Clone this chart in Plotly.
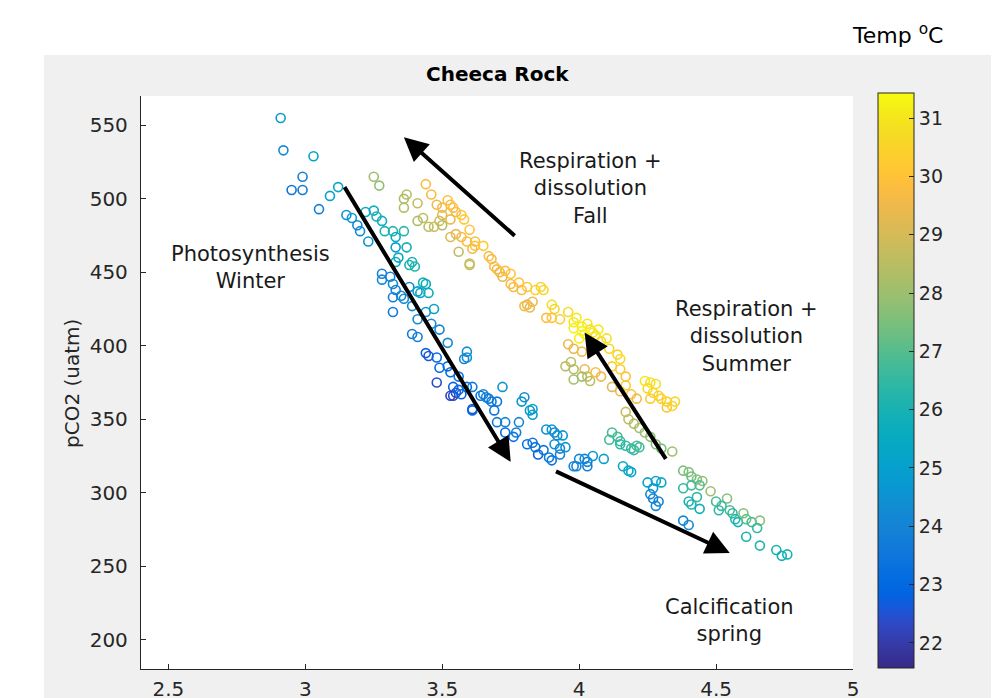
import plotly.graph_objects as go

# ---------------- data ----------------
winter_x = [2.91, 2.92, 3.03, 2.99, 2.95, 2.99, 3.05, 3.09, 3.12, 3.15, 3.17, 3.20, 3.23, 3.25, 3.26, 3.28,
            3.29, 3.32, 3.33, 3.36, 3.37, 3.33, 3.34, 3.39, 3.22, 3.19, 3.38, 3.40, 3.43, 3.44, 3.42, 3.45,
            3.33, 3.28, 3.28, 3.31, 3.32, 3.33, 3.35, 3.32, 3.36, 3.38, 3.41, 3.32, 3.39, 3.41, 3.44, 3.47,
            3.46, 3.39, 3.41, 3.49, 3.52, 3.44, 3.45, 3.48, 3.49, 3.52, 3.53, 3.56, 3.48, 3.54, 3.55, 3.53,
            3.57, 3.59, 3.61, 3.59, 3.59, 3.58, 3.72, 3.61, 3.64, 3.65, 3.67, 3.70, 3.79, 3.83, 3.54, 3.56,
            3.66, 3.68, 3.61, 3.69, 3.70, 3.73, 3.73, 3.78, 3.80, 3.82, 3.83, 3.77, 3.76, 3.81, 3.83, 3.84,
            3.85, 3.87, 3.88, 3.90, 3.91, 3.92, 3.94, 3.91, 3.93, 3.95, 3.93, 3.89, 3.90, 3.98, 4.00, 4.02,
            4.03, 4.05, 4.03, 4.09, 3.99, 4.16, 4.18, 4.19, 4.25, 4.28, 4.30, 4.27, 4.26, 4.27, 4.29, 4.28,
            4.38, 4.40]
winter_pco2 = [555, 533, 529, 515, 506, 506, 493, 502, 508, 489, 487, 478, 471, 492, 488, 485,
               478, 478, 474, 478, 467, 467, 460, 457, 491, 482, 455, 454, 443, 442, 436, 436,
               457, 449, 445, 447, 442, 438, 434, 433, 432, 440, 437, 423, 427, 418, 423, 425,
               415, 408, 406, 411, 402, 395, 393, 392, 385, 386, 382, 379, 375, 372, 368, 366,
               367, 372, 372, 396, 392, 391, 372, 357, 366, 367, 364, 362, 362, 357, 366, 370,
               365, 362, 356, 356, 348, 348, 341, 348, 365, 356, 353, 341, 338, 333, 334, 331,
               326, 329, 343, 343, 341, 339, 339, 333, 330, 331, 326, 324, 322, 318, 323, 323,
               321, 325, 318, 323, 318, 318, 315, 314, 307, 308, 307, 303, 299, 296, 294, 291,
               281, 278]
winter_temp = [24.8, 24.2, 25.0, 24.0, 23.4, 23.6, 23.8, 25.0, 25.3, 24.5, 24.8, 24.3, 24.6, 25.8, 26.0, 25.7,
               26.0, 26.2, 25.5, 26.3, 25.8, 24.8, 25.5, 26.0, 25.3, 24.0, 26.0, 26.2, 26.0, 25.5, 25.3, 25.7,
               25.5, 23.9, 24.2, 24.0, 24.3, 24.0, 24.1, 23.8, 24.2, 24.4, 24.9, 23.6, 24.3, 24.2, 24.5, 25.0,
               24.3, 23.7, 23.9, 24.0, 24.2, 22.8, 22.5, 23.0, 23.2, 23.3, 23.0, 23.4, 22.4, 22.7, 22.5, 22.2,
               22.8, 23.2, 23.6, 24.3, 24.5, 24.0, 24.6, 22.5, 23.4, 23.8, 23.6, 23.5, 24.7, 25.2, 22.3, 23.0,
               24.0, 23.7, 23.0, 23.5, 23.7, 24.0, 23.1, 24.1, 24.4, 24.7, 24.8, 23.8, 23.5, 23.3, 23.5, 23.2,
               22.8, 23.4, 24.5, 24.6, 24.3, 24.4, 24.7, 24.4, 24.2, 24.5, 24.0, 23.6, 23.5, 23.9, 24.2, 24.1,
               23.9, 24.6, 23.8, 25.0, 24.0, 25.3, 25.4, 25.3, 25.0, 25.2, 25.3, 24.6, 24.2, 24.0, 23.9, 24.1,
               24.0, 24.2]

fall_x = [3.25, 3.27, 3.44, 3.37, 3.36, 3.41, 3.36, 3.46, 3.48, 3.50, 3.53, 3.55, 3.57, 3.50, 3.53, 3.41,
          3.43, 3.45, 3.47, 3.49, 3.53, 3.55, 3.57, 3.56, 3.59, 3.52, 3.54, 3.58, 3.60, 3.50, 3.62, 3.62,
          3.65, 3.61, 3.60, 3.68, 3.69, 3.71, 3.72, 3.75, 3.75, 3.78, 3.81, 3.84, 3.87, 3.79, 3.76, 3.81,
          3.82, 3.83, 3.80, 3.67, 3.70, 3.60, 3.73, 3.86]
fall_pco2 = [515, 509, 510, 503, 500, 497, 494, 503, 496, 494, 496, 491, 489, 489, 486, 485,
             487, 481, 481, 485, 474, 476, 474, 464, 471, 499, 494, 486, 479, 482, 471, 468,
             468, 466, 456, 459, 454, 450, 447, 449, 442, 443, 440, 438, 438, 438, 440, 428,
             426, 430, 427, 461, 452, 455, 451, 440]
fall_temp = [28.0, 27.8, 29.8, 28.5, 28.3, 28.7, 28.4, 29.7, 29.5, 29.6, 29.8, 29.7, 30.0, 29.3, 29.5, 28.3,
             28.6, 28.5, 28.8, 29.0, 29.1, 29.4, 29.6, 28.7, 29.8, 29.9, 29.9, 30.2, 30.0, 28.3, 29.9, 30.0,
             30.2, 29.6, 28.7, 29.6, 29.7, 29.5, 29.3, 30.0, 29.8, 30.1, 30.2, 30.5, 30.6, 29.8, 29.6, 29.3,
             29.4, 29.5, 29.6, 29.8, 29.7, 28.8, 29.9, 30.4]

summer_x = [3.90, 3.91, 3.88, 3.90, 3.93, 3.96, 3.98, 3.99, 4.01, 4.03, 4.04, 4.05, 4.06, 4.08, 3.98, 4.01,
            3.96, 3.98, 4.01, 3.95, 3.97, 3.98, 4.02, 4.03, 4.04, 3.98, 4.01, 4.06, 4.08, 4.11, 4.14, 4.15,
            4.12, 4.15, 4.17, 4.12, 4.15, 4.17, 4.19, 4.21, 4.24, 4.26, 4.28, 4.25, 4.27, 4.29, 4.30, 4.32,
            4.34, 4.35, 4.32, 4.26, 4.17, 4.18, 4.20, 4.22, 4.24, 4.26, 4.28, 4.30, 4.34, 4.12, 4.14, 4.15,
            4.17, 4.20, 4.21, 4.11, 4.07, 4.10, 4.02, 4.00]
summer_pco2 = [428, 425, 419, 419, 418, 423, 416, 419, 413, 415, 411, 409, 407, 403, 412, 410,
               401, 398, 396, 386, 389, 384, 384, 379, 376, 377, 379, 382, 379, 398, 394, 391,
               386, 384, 379, 372, 369, 373, 367, 364, 376, 375, 374, 371, 368, 366, 364, 362,
               359, 362, 358, 364, 355, 350, 347, 344, 341, 338, 333, 330, 328, 341, 338, 335,
               332, 329, 332, 336, 411, 405, 408, 405]
summer_temp = [30.8, 30.5, 29.8, 30.0, 30.3, 30.7, 31.0, 31.1, 31.2, 31.0, 30.9, 31.0, 30.8, 30.6, 31.2, 31.3,
               29.5, 29.3, 29.6, 28.5, 28.6, 28.3, 29.4, 28.8, 28.5, 28.2, 28.0, 29.8, 29.5, 30.6, 30.5, 30.7,
               30.3, 30.2, 30.0, 29.2, 29.5, 30.2, 29.9, 29.6, 31.0, 30.9, 30.8, 30.7, 30.6, 30.4, 30.5, 30.3,
               30.5, 30.6, 30.1, 30.2, 28.8, 28.6, 28.4, 28.2, 28.0, 27.8, 27.7, 27.5, 28.0, 26.8, 26.9, 26.6,
               26.5, 26.6, 26.9, 26.7, 31.1, 30.9, 31.3, 31.2]

spring_x = [4.38, 4.40, 4.41, 4.43, 4.45, 4.44, 4.41, 4.38, 4.48, 4.43, 4.40, 4.41, 4.44, 4.54, 4.50, 4.51,
            4.52, 4.55, 4.56, 4.57, 4.58, 4.60, 4.61, 4.63, 4.66, 4.65, 4.61, 4.66, 4.72, 4.74, 4.76, 4.15,
            4.19, 4.22]
spring_pco2 = [315, 314, 311, 309, 308, 305, 305, 303, 301, 297, 294, 292, 289, 296, 294, 288,
               291, 288, 286, 282, 280, 286, 282, 280, 281, 276, 270, 264, 261, 257, 258, 333,
               330, 331]
spring_temp = [27.5, 27.7, 27.3, 27.6, 27.8, 27.0, 26.8, 26.5, 28.0, 26.5, 26.0, 26.2, 25.8, 27.7, 26.8, 26.4,
               26.6, 26.8, 26.5, 26.2, 26.0, 27.6, 27.2, 26.8, 27.8, 26.5, 26.0, 26.2, 26.0, 25.9, 26.0, 26.4,
               26.5, 26.7]

x_ticks = [2.5, 3, 3.5, 4, 4.5, 5]
x_ticktext = ["2.5", "3", "3.5", "4", "4.5", "5"]
y_ticks = [200, 250, 300, 350, 400, 450, 500, 550]
temp_ticks = [22, 23, 24, 25, 26, 27, 28, 29, 30, 31]

# text labels (data units): (text, x, y)
labels = [
    ("Photosynthesis<br>Winter", 2.80, 453),
    ("Respiration +<br>dissolution<br>Fall", 4.04, 507),
    ("Respiration +<br>dissolution<br>Summer", 4.61, 406),
    ("Calcification<br>spring", 4.55, 213),
]
# arrows (data units): (tail x, tail y, head x, head y)
arrows = [
    (3.14, 509, 3.75, 321),
    (3.77, 474, 3.36, 542),
    (4.32, 322, 4.02, 409),
    (3.91, 315, 4.55, 259),
]

# ---------------- style ----------------
parula = [
    [0.2081, 0.1663, 0.5292], [0.2116, 0.1898, 0.5777], [0.2123, 0.2138, 0.6270], [0.2081, 0.2386, 0.6771],
    [0.1959, 0.2645, 0.7279], [0.1707, 0.2919, 0.7792], [0.1253, 0.3242, 0.8303], [0.0591, 0.3598, 0.8683],
    [0.0117, 0.3875, 0.8820], [0.0060, 0.4086, 0.8828], [0.0165, 0.4266, 0.8786], [0.0329, 0.4430, 0.8720],
    [0.0498, 0.4586, 0.8641], [0.0629, 0.4737, 0.8554], [0.0723, 0.4887, 0.8467], [0.0779, 0.5040, 0.8384],
    [0.0793, 0.5200, 0.8312], [0.0749, 0.5375, 0.8263], [0.0641, 0.5570, 0.8240], [0.0488, 0.5772, 0.8228],
    [0.0343, 0.5966, 0.8199], [0.0265, 0.6137, 0.8135], [0.0239, 0.6287, 0.8038], [0.0231, 0.6418, 0.7913],
    [0.0228, 0.6535, 0.7768], [0.0267, 0.6642, 0.7607], [0.0384, 0.6743, 0.7436], [0.0590, 0.6838, 0.7254],
    [0.0843, 0.6928, 0.7062], [0.1133, 0.7015, 0.6859], [0.1453, 0.7098, 0.6646], [0.1801, 0.7177, 0.6424],
    [0.2178, 0.7250, 0.6193], [0.2586, 0.7317, 0.5954], [0.3022, 0.7376, 0.5712], [0.3482, 0.7424, 0.5473],
    [0.3953, 0.7459, 0.5244], [0.4420, 0.7481, 0.5033], [0.4871, 0.7491, 0.4840], [0.5300, 0.7491, 0.4661],
    [0.5709, 0.7485, 0.4494], [0.6099, 0.7473, 0.4337], [0.6473, 0.7456, 0.4188], [0.6834, 0.7435, 0.4044],
    [0.7184, 0.7411, 0.3905], [0.7525, 0.7384, 0.3768], [0.7858, 0.7356, 0.3633], [0.8185, 0.7327, 0.3498],
    [0.8507, 0.7299, 0.3360], [0.8824, 0.7274, 0.3217], [0.9139, 0.7258, 0.3063], [0.9450, 0.7261, 0.2886],
    [0.9739, 0.7314, 0.2666], [0.9938, 0.7455, 0.2403], [0.9990, 0.7653, 0.2164], [0.9955, 0.7861, 0.1967],
    [0.9880, 0.8066, 0.1794], [0.9789, 0.8271, 0.1633], [0.9697, 0.8481, 0.1475], [0.9626, 0.8705, 0.1309],
    [0.9589, 0.8949, 0.1132], [0.9598, 0.9218, 0.0948], [0.9661, 0.9514, 0.0755], [0.9763, 0.9831, 0.0538],
]
n = len(parula)
colorscale = [[i / (n - 1), "rgb(%d,%d,%d)" % tuple(round(c * 255) for c in rgb)] for i, rgb in enumerate(parula)]

FONT = "DejaVu Sans"
AXC = "#262626"
TXT = "#1a1a1a"

# the page body has an 8 px margin, so the figure is laid out 8 px smaller and
# screen positions (window pixels) are converted with that offset
OFF = 8
W, H = 1004 - OFF, 698 - OFF
PLOT_L, PLOT_R, PLOT_T, PLOT_B = 141, 853, 96, 669   # window pixels of the axes box
L, T = PLOT_L - OFF, PLOT_T - OFF
R, B = W - (PLOT_R - OFF), H - (PLOT_B - OFF)
pw, ph = W - L - R, H - T - B

def px_x(p):
    return (p - OFF - L) / pw

def px_y(p):
    return (H - B - (p - OFF)) / ph

all_x = winter_x + fall_x + summer_x + spring_x
all_y = winter_pco2 + fall_pco2 + summer_pco2 + spring_pco2
all_t = winter_temp + fall_temp + summer_temp + spring_temp

fig = go.Figure()
fig.add_trace(go.Scatter(
    x=all_x, y=all_y, mode="markers",
    marker=dict(
        symbol="circle-open", size=9, color=all_t, colorscale=colorscale,
        cmin=21.57, cmax=31.43, line=dict(width=1.6),
        showscale=True,
        colorbar=dict(
            x=px_x(878), xanchor="left", xref="paper",
            y=px_y(380.5), yanchor="middle", yref="paper",
            len=575, lenmode="pixels", thickness=36, thicknessmode="pixels",
            outlinewidth=1, outlinecolor=AXC,
            tickvals=temp_ticks, ticks="inside", ticklen=5, tickcolor=AXC,
            tickfont=dict(family=FONT, size=19, color=AXC),
            xpad=0, ypad=0,
        ),
    ),
    hoverinfo="skip", showlegend=False,
))

shapes = [
    dict(type="rect", xref="paper", yref="paper", x0=px_x(44), x1=px_x(991), y0=px_y(720), y1=px_y(55),
         fillcolor="#f0f0f0", line=dict(width=0), layer="below"),
    dict(type="rect", xref="paper", yref="paper", x0=0, x1=1, y0=0, y1=1,
         fillcolor="white", line=dict(width=0), layer="below"),
]

annotations = []
for text, xx, yy in labels:
    annotations.append(dict(x=xx, y=yy, xref="x", yref="y", text=text, showarrow=False,
                            font=dict(family=FONT, size=21, color=TXT), align="center",
                            xanchor="center", yanchor="middle"))
for tx, ty, hx, hy in arrows:
    annotations.append(dict(x=hx, y=hy, ax=tx, ay=ty, xref="x", yref="y", axref="x", ayref="y",
                            text="", showarrow=True, arrowhead=2, arrowsize=1.2, arrowwidth=4,
                            arrowcolor="black", standoff=0, startstandoff=0))
annotations += [
    dict(x=px_x(497), y=px_y(74), xref="paper", yref="paper", text="<b>Cheeca Rock</b>", showarrow=False,
         font=dict(family=FONT, size=20, color="black"), xanchor="center", yanchor="middle"),
    dict(x=px_x(897), y=px_y(34), xref="paper", yref="paper", text="Temp <sup>o</sup>C", showarrow=False,
         font=dict(family=FONT, size=22, color="black"), xanchor="center", yanchor="middle"),
    dict(x=px_x(72), y=px_y(384), xref="paper", yref="paper", text="pCO2 (uatm)", showarrow=False,
         textangle=-90, font=dict(family=FONT, size=20, color=AXC), xanchor="center", yanchor="middle"),
]

fig.update_layout(
    width=W, height=H, margin=dict(l=L, r=R, t=T, b=B, autoexpand=False),
    paper_bgcolor="white", plot_bgcolor="white",
    shapes=shapes, annotations=annotations,
    xaxis=dict(range=[2.4, 5.0], tickvals=x_ticks, ticktext=x_ticktext,
               ticks="inside", ticklen=5, tickcolor=AXC, showline=True, linecolor=AXC, linewidth=1.3,
               showgrid=False, zeroline=False, mirror=False,
               tickfont=dict(family=FONT, size=20, color=AXC), ticklabelstandoff=2),
    yaxis=dict(range=[180, 570], tickvals=y_ticks,
               ticks="inside", ticklen=5, tickcolor=AXC, showline=True, linecolor=AXC, linewidth=1.3,
               showgrid=False, zeroline=False, mirror=False,
               tickfont=dict(family=FONT, size=20, color=AXC), ticklabelstandoff=8),
)

fig.write_html("out.html")
